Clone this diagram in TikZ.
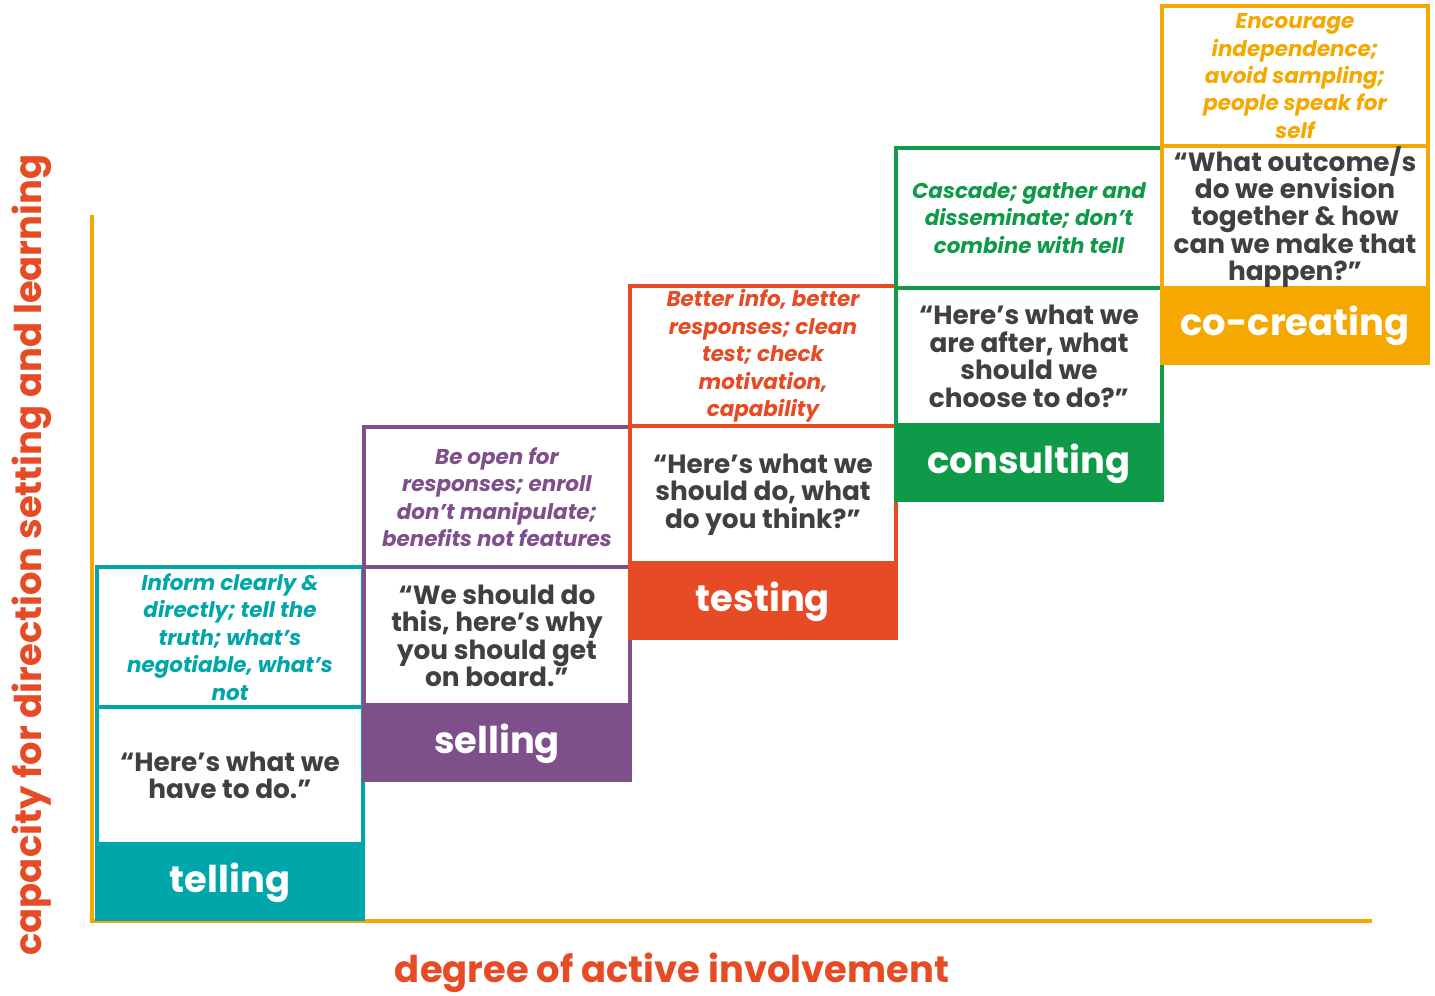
\documentclass[tikz,border=0pt]{standalone}
\usepackage{fontspec}
\setmainfont{Poppins}
\usepackage{tikz}
\usetikzlibrary{positioning}
\usepackage{xcolor}

\tikzset{
  notebox/.style={draw=#1, text=#1, line width=2.2pt, outer sep=0pt, inner sep=0pt,
    minimum width=5.32cm, minimum height=2.8cm, align=center, anchor=north west,
    font=\bfseries\itshape\fontsize{12.2}{15.6}\selectfont},
  quotebox/.style={draw=#1, text=quotegray, line width=2.2pt, outer sep=0pt, inner sep=0pt,
    minimum width=5.32cm, minimum height=2.74cm, align=center,
    font=\bfseries\fontsize{15}{15.6}\selectfont},
  stagebox/.style={fill=#1, text=white, outer sep=0pt, inner sep=0pt,
    minimum width=5.40cm, minimum height=1.54cm,
    font=\bfseries\fontsize{21}{24}\selectfont},
  axislabel/.style={text=testcolor, font=\bfseries\fontsize{21}{24}\selectfont}
}

\begin{document}
\begin{tikzpicture}[x=0.02cm, y=-0.02cm]
    % Define colors
    \definecolor{tellcolor}{RGB}{0, 166, 169}
    \definecolor{sellcolor}{RGB}{127, 79, 140}
    \definecolor{testcolor}{RGB}{230, 75, 37}
    \definecolor{consultcolor}{RGB}{14, 154, 72}
    \definecolor{cocreatecolor}{RGB}{245, 168, 0}
    \definecolor{quotegray}{RGB}{64, 64, 64}

    \useasboundingbox (0,0) rectangle (1435,996);

    % Axes
    \coordinate (origin) at (92,921);
    \coordinate (ytop) at (92,215);
    \coordinate (xend) at (1372,921);
    \draw[cocreatecolor, line width=2.3pt] (ytop) -- (92,923);
    \draw[cocreatecolor, line width=2.3pt] (origin) -- (xend);

    % Axis labels
    \node[axislabel] (xlabel) at (672,973) {degree of active involvement};
    \node[axislabel, rotate=90] (ylabel) at (32,555) {capacity for direction setting and learning};

    % Telling
    \node[notebox=tellcolor] (tellnote) at (97,567) {Inform clearly \&\\directly; tell the\\truth; what’s\\negotiable, what’s\\not};
    \node[quotebox=tellcolor, below=0pt of tellnote] (tellquote) {“Here’s what we\\have to do.”};
    \node[stagebox=tellcolor, below=0pt of tellquote] (tellstage) {telling};

    % Selling
    \node[notebox=sellcolor] (sellnote) at (364,427) {Be open for\\responses; enroll\\don’t manipulate;\\benefits not features};
    \node[quotebox=sellcolor, below=0pt of sellnote, minimum height=2.76cm] (sellquote) {“We should do\\this, here’s why\\you should get\\on board.”};
    \node[stagebox=sellcolor, below=0pt of sellquote] (sellstage) {selling};

    % Testing
    \node[notebox=testcolor] (testnote) at (630,286) {Better info, better\\responses; clean\\test; check\\motivation,\\capability};
    \node[quotebox=testcolor, below=0pt of testnote] (testquote) {“Here’s what we\\should do, what\\do you think?”};
    \node[stagebox=testcolor, below=0pt of testquote] (teststage) {testing};

    % Consulting
    \node[notebox=consultcolor] (consultnote) at (896,148) {Cascade; gather and\\disseminate; don’t\\combine with tell};
    \node[quotebox=consultcolor, below=0pt of consultnote] (consultquote) {“Here’s what we\\are after, what\\should we\\choose to do?”};
    \node[stagebox=consultcolor, below=0pt of consultquote] (consultstage) {consulting};

    % Co-creating
    \node[notebox=cocreatecolor] (cocreatenote) at (1162,6) {Encourage\\independence;\\avoid sampling;\\people speak for\\self};
    \node[quotebox=cocreatecolor, below=0pt of cocreatenote] (cocreatequote) {“What outcome/s\\do we envision\\together \& how\\can we make that\\happen?”};
    \node[stagebox=cocreatecolor, below=0pt of cocreatequote] (cocreatestage) {co-creating};

\end{tikzpicture}
\end{document}
